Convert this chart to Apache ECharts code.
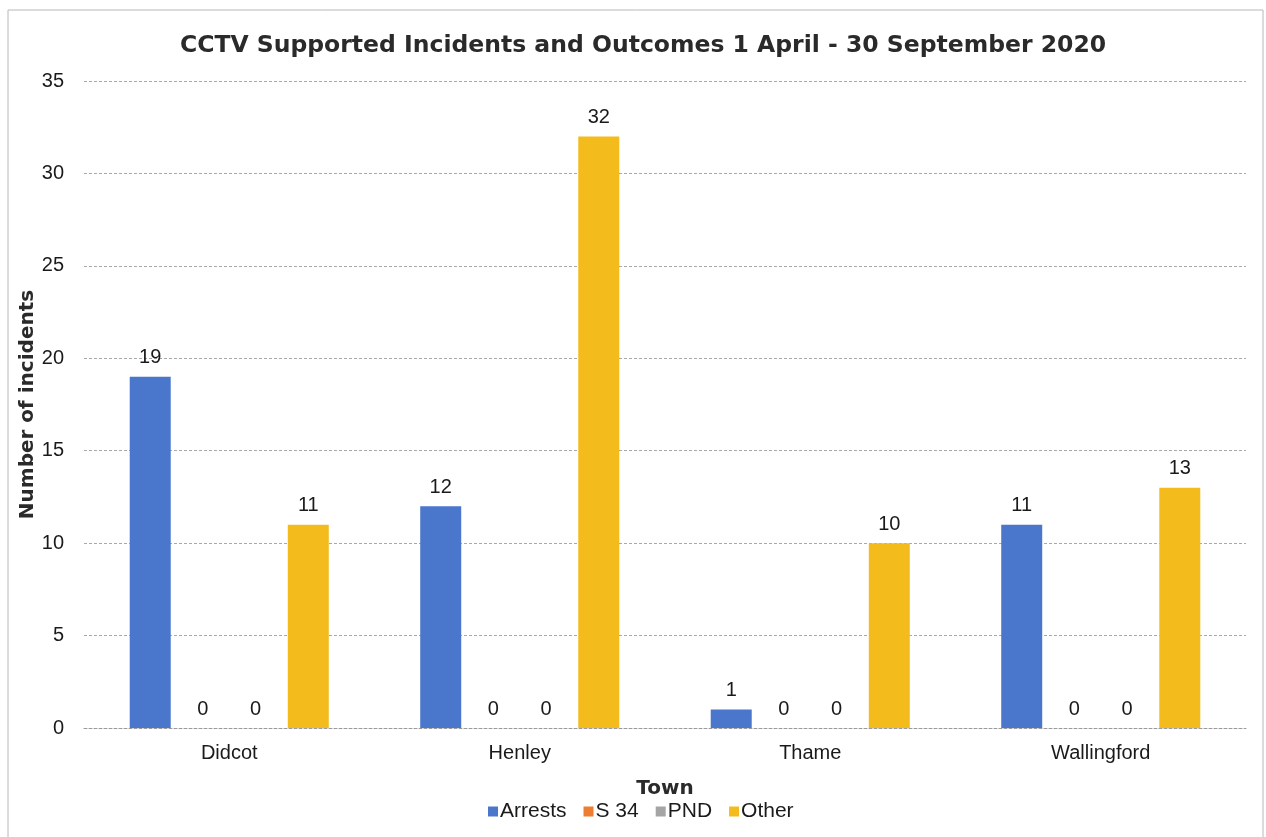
<!DOCTYPE html>
<html>
<head>
<meta charset="utf-8">
<script src="https://cdn.jsdelivr.net/npm/echarts@6/dist/echarts.min.js"></script>
<style>
html,body{margin:0;padding:0;background:#fff;}
#chart{width:1266px;height:837px;}
</style>
</head>
<body>
<div id="chart"></div>
<script>
var towns = ['Didcot', 'Henley', 'Thame', 'Wallingford'];
var seriesNames = ['Arrests', 'S 34', 'PND', 'Other'];
var arrests = [19, 12, 1, 11];
var s34 = [0, 0, 0, 0];
var pnd = [0, 0, 0, 0];
var other = [11, 32, 10, 13];
var yTicks = [0, 5, 10, 15, 20, 25, 30, 35];

var colors = ['#4a76cc', '#ed7d31', '#a5a5a5', '#f4bb1c'];
var seriesData = [arrests, s34, pnd, other];

var chart = echarts.init(document.getElementById('chart'));
var font = 'Liberation Sans, Arial, sans-serif';
var wide = 'DejaVu Sans, Liberation Sans, sans-serif';

var series = seriesNames.map(function (name, i) {
  return {
    name: name,
    type: 'bar',
    data: seriesData[i],
    barWidth: 41,
    barGap: '28.5%',
    itemStyle: { color: colors[i] },
    label: {
      show: true,
      position: 'top',
      distance: 9,
      color: '#1a1a1a',
      fontSize: 20,
      fontFamily: font
    }
  };
});

chart.setOption({
  animation: false,
  backgroundColor: '#ffffff',
  graphic: [{
    type: 'rect',
    shape: { x: 8, y: 10, width: 1255, height: 840 },
    style: { fill: 'none', stroke: '#b8b8b8', lineWidth: 1 },
    silent: true,
    z: -10
  }],
  title: {
    text: 'CCTV Supported Incidents and Outcomes 1 April - 30 September 2020',
    left: 638,
    textAlign: 'center',
    top: 29,
    textStyle: { fontFamily: wide, fontWeight: 'bold', fontSize: 23.5, color: '#2a2a2a' }
  },
  legend: {
    data: seriesNames,
    bottom: 10,
    left: 483,
    itemWidth: 10,
    itemHeight: 10,
    itemGap: 17,
    icon: 'rect',
    textStyle: { fontFamily: font, fontSize: 21, color: '#1a1a1a', padding: [0, 0, 0, -3] }
  },
  grid: { left: 84, right: 20, top: 81, bottom: 109 },
  xAxis: {
    type: 'category',
    data: towns,
    name: 'Town',
    nameLocation: 'middle',
    nameGap: 51,
    nameMoveOverlap: false,
    nameTextStyle: { fontFamily: wide, fontWeight: 'bold', fontSize: 20, color: '#2a2a2a' },
    axisLine: { show: true, lineStyle: { color: '#9a9a9a', type: [3, 2], width: 1 } },
    axisTick: { show: false },
    axisLabel: { fontFamily: font, fontSize: 20, color: '#1a1a1a', margin: 15 }
  },
  yAxis: {
    type: 'value',
    min: 0,
    max: 35,
    interval: 5,
    name: 'Number of incidents',
    nameLocation: 'middle',
    nameGap: 46,
    nameMoveOverlap: false,
    nameTextStyle: { fontFamily: wide, fontWeight: 'bold', fontSize: 20, color: '#2a2a2a' },
    axisLine: { show: false },
    axisTick: { show: false },
    axisLabel: {
      fontFamily: font, fontSize: 20, color: '#1a1a1a', margin: 20,
      formatter: function (v) { return yTicks.indexOf(v) >= 0 ? String(v) : ''; }
    },
    splitLine: { lineStyle: { color: '#a8a8a8', type: [3, 2], width: 1 } }
  },
  series: series
});
</script>
</body>
</html>
